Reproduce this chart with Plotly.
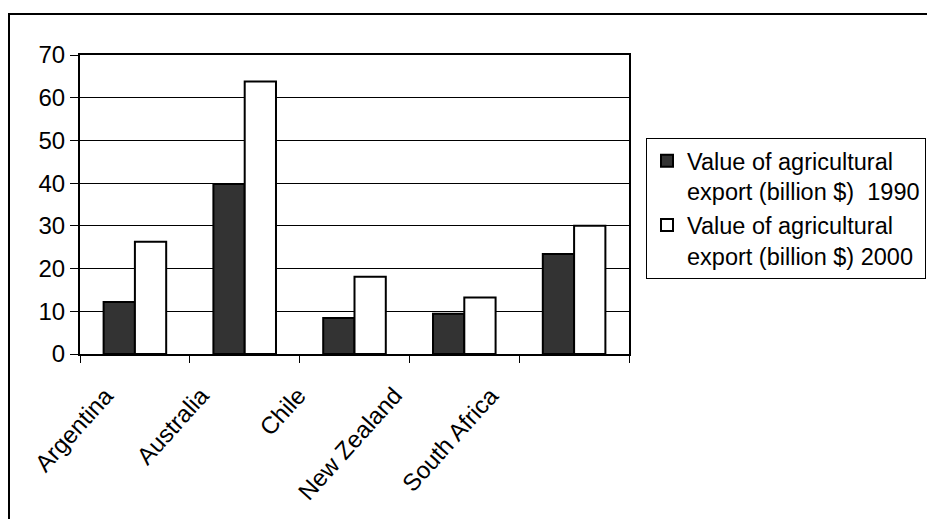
import plotly.graph_objects as go

# Agricultural export values by country (billion $)
countries = ["Argentina", "Australia", "Chile", "New Zealand", "South Africa"]
exports_1990 = [12.2, 39.8, 8.4, 9.4, 23.4]
exports_2000 = [26.3, 63.8, 18.1, 13.2, 30.0]
series_names = [
    "Value of agricultural<br>export (billion $)  1990",
    "Value of agricultural<br>export (billion $) 2000",
]
y_ticks = [0, 10, 20, 30, 40, 50, 60, 70]

FONT = "Liberation Sans, Arial, sans-serif"
FS = 24

W, H = 927, 519
L, R, T, B = 80, 629, 55, 354  # plot area in pixels
pw, ph = R - L, B - T


def px_x(x):
    return (x - L) / pw


def px_y(y):
    return (B - y) / ph


fig = go.Figure()
fig.add_trace(go.Bar(
    x=countries, y=exports_1990, name=series_names[0],
    marker=dict(color="#333333", line=dict(color="black", width=2)),
))
fig.add_trace(go.Bar(
    x=countries, y=exports_2000, name=series_names[1],
    marker=dict(color="white", line=dict(color="black", width=2)),
))

# Slanted category labels, right-aligned under each group and drifting left
# slightly from one category to the next
category_labels = [
    dict(
        x=name, xref="x", y=0, yref="paper",
        text=name, showarrow=False, textangle=-48,
        xanchor="right", yanchor="top",
        xshift=-14 - 13.5 * i, yshift=-25,
        font=dict(family=FONT, size=FS, color="black"),
    )
    for i, name in enumerate(countries)
]

fig.update_layout(
    width=W, height=H,
    margin=dict(l=L, r=W - R, t=T, b=H - B, pad=0, autoexpand=False),
    paper_bgcolor="white", plot_bgcolor="white",
    font=dict(family=FONT, size=FS, color="black"),
    barmode="group", bargap=0.43, bargroupgap=0,
    showlegend=True,
    legend=dict(
        x=px_x(646), y=px_y(138), xanchor="left", yanchor="top",
        bordercolor="black", borderwidth=1, bgcolor="white",
        font=dict(family=FONT, size=23.5, color="black"),
        valign="top", itemwidth=30, tracegroupgap=0,
    ),
    xaxis=dict(
        type="category", categoryorder="array", categoryarray=countries,
        range=[-0.5, len(countries) - 0.5], autorange=False,
        showline=True, linecolor="black", linewidth=2, mirror=True,
        ticks="outside", tickson="boundaries", ticklen=7, tickwidth=1, tickcolor="black",
        showticklabels=False, showgrid=False,
    ),
    yaxis=dict(
        range=[0, 70], tickvals=y_ticks,
        showline=True, linecolor="black", linewidth=2, mirror=True,
        ticks="outside", ticklen=8, tickwidth=1, tickcolor="black",
        showgrid=True, gridcolor="black", gridwidth=1, zeroline=False,
        tickfont=dict(family=FONT, size=FS, color="black"),
    ),
    annotations=category_labels,
    shapes=[dict(
        type="rect", xref="paper", yref="paper",
        x0=px_x(9), x1=px_x(935), y0=px_y(525), y1=px_y(14),
        line=dict(color="black", width=2), fillcolor="rgba(0,0,0,0)", layer="below",
    )],
)

fig.write_html("out.html")
